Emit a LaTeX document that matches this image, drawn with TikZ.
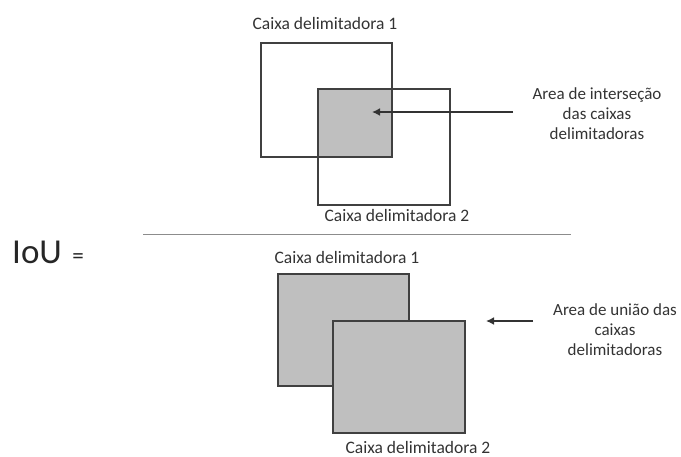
\documentclass[tikz,border=0pt]{standalone}
\usepackage{fontspec}
\setmainfont{Carlito}
\usetikzlibrary{arrows.meta}
\begin{document}
\begin{tikzpicture}[x=1pt,y=-1pt,
  boxline/.style={draw=black!75, line width=1.4pt},
  gbox/.style={boxline, fill=black!25},
  lbl/.style={font=\fontsize{17.5}{19}\selectfont, text=black!80, inner sep=0pt},
  side/.style={lbl, align=center, font=\fontsize{17}{20}\selectfont},
  arr/.style={draw=black!80, line width=2.2pt, -{Latex[length=8pt,width=8pt]}},
  rect/.style={rectangle, anchor=north west, inner sep=0pt, outer sep=0pt}]
\useasboundingbox (0,0) rectangle (681,456);
% top
\node[rect, fill=black!25, minimum width=74pt, minimum height=68pt] (inter) at (318,89) {};
\node[rect, boxline, minimum width=131pt, minimum height=114pt] (tb1) at (261,43) {};
\node[rect, boxline, minimum width=132pt, minimum height=116pt] (tb2) at (318,89) {};
\node[lbl] (tl1) at (325,23) {Caixa delimitadora 1};
\node[lbl] (tl2) at (397,215) {Caixa delimitadora 2};
\node[side] (tside) at (597,114) {Area de interseção\\das caixas\\delimitadoras};
\coordinate (ta) at (513,112);
\coordinate (tb) at (372,112);
\draw[arr] (ta) -- (tb);
% separator
\coordinate (s1) at (143,234);
\coordinate (s2) at (571,234);
\draw[black!45, line width=0.8pt] (s1) -- (s2);
\node[inner sep=0pt, anchor=base west, font=\fontsize{35}{35}\selectfont, text=black!85] (iou) at (12,263) {IoU};
\node[inner sep=0pt, anchor=base west, font=\fontsize{23}{23}\selectfont, text=black!85] (eq) at ([xshift=10pt]iou.base east) {=};
% bottom
\node[rect, gbox, minimum width=131pt, minimum height=112pt] (bb1) at (278,274) {};
\node[rect, gbox, minimum width=132pt, minimum height=112pt] (bb2) at (333,321) {};
\node[lbl] (bl1) at (347,257) {Caixa delimitadora 1};
\node[lbl] (bl2) at (418,447) {Caixa delimitadora 2};
\node[side] (bside) at (615,330) {Area de união das\\caixas\\delimitadoras};
\coordinate (ba) at (533,321);
\coordinate (bb) at (486,321);
\draw[arr] (ba) -- (bb);
\end{tikzpicture}
\end{document}
